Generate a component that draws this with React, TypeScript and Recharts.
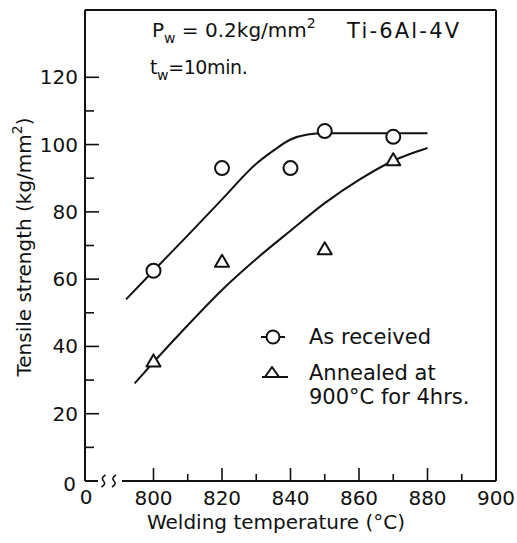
import React from 'react';
import { ComposedChart, Line, Scatter, XAxis, YAxis, ReferenceLine, Legend } from 'recharts';

const FONT = '"DejaVu Sans", sans-serif';

// axis ticks
const X_TICKS = [780, 800, 810, 820, 830, 840, 850, 860, 870, 880, 890, 900];
const X_TICK_LABELS: Record<number, string> = { 780: '0', 800: '800', 820: '820', 840: '840', 860: '860', 880: '880', 900: '900' };
const Y_TICKS = [0, 10, 20, 30, 40, 50, 60, 70, 80, 90, 100, 110, 120];
const Y_TICK_LABELS: Record<number, string> = { 0: '0', 20: '20', 40: '40', 60: '60', 80: '80', 100: '100', 120: '120' };

// measured points
const AS_RECEIVED_T = [800, 820, 840, 850, 870];
const AS_RECEIVED_V = [62.5, 93, 93, 104, 102.3];
const ANNEALED_T = [800, 820, 850, 870];
const ANNEALED_V = [35.7, 65.3, 69, 95.5];

// fitted curves
const AS_FIT_T = [792, 800, 810, 820, 830, 835, 840, 845, 850, 860, 870, 880];
const AS_FIT_V = [54, 62.5, 73, 83.7, 94.3, 98.2, 101.5, 103, 103.4, 103.4, 103.4, 103.4];
const AN_FIT_T = [794.5, 800, 810, 820, 830, 840, 850, 860, 870, 880];
const AN_FIT_V = [29, 35.3, 46.3, 56.8, 66, 74.4, 82.6, 89.5, 95.2, 99];

const LEGEND_LABELS = ['As received', 'Annealed at', '900°C for 4hrs.'];
const X_LABEL = 'Welding temperature (°C)';
const Y_LABEL = 'Tensile strength (kg/mm';
const MATERIAL = 'Ti-6Al-4V';

const zip = (t: number[], v: number[]) => t.map((x, i) => ({ t: x, v: v[i] }));
const asPts = zip(AS_RECEIVED_T, AS_RECEIVED_V);
const anPts = zip(ANNEALED_T, ANNEALED_V);
const asFit = zip(AS_FIT_T, AS_FIT_V);
const anFit = zip(AN_FIT_T, AN_FIT_V);

const textStyle = { fontFamily: FONT, fill: '#111' } as const;

const XTick = (props: any) => {
  const { x, y, payload } = props;
  const v = payload.value as number;
  const label = X_TICK_LABELS[v];
  if (v === 780) {
    const sq = (cx: number) =>
      `M${cx + 2},${y - 6} Q${cx - 3},${y - 3} ${cx},${y} Q${cx + 3},${y + 3} ${cx - 2},${y + 6}`;
    return (
      <g>
        <rect x={x + 13} y={y - 7} width={24} height={14} fill="#fff" />
        <path d={sq(x + 18.5)} fill="none" stroke="#111" strokeWidth={1.6} />
        <path d={sq(x + 29)} fill="none" stroke="#111" strokeWidth={1.6} />
        <text x={x + 1} y={y + 16} textAnchor="middle" dominantBaseline="central" fontSize={20} style={textStyle}>
          {label}
        </text>
      </g>
    );
  }
  const major = v % 20 === 0 && v < 900;
  const minor = v % 20 === 10;
  return (
    <g>
      {(major || minor) && (
        <line x1={x} x2={x} y1={y} y2={y - (major ? 13 : 7)} stroke="#111" strokeWidth={1.6} />
      )}
      {label && (
        <text x={x} y={y + 17} textAnchor="middle" dominantBaseline="central" fontSize={20} style={textStyle}>
          {label}
        </text>
      )}
    </g>
  );
};

const YTick = (props: any) => {
  const { x, y, payload } = props;
  const v = payload.value as number;
  const label = Y_TICK_LABELS[v];
  const major = v % 20 === 0;
  return (
    <g>
      {v !== 0 && <line x1={x} x2={x + (major ? 14 : 9)} y1={y} y2={y} stroke="#111" strokeWidth={1.6} />}
      {label && (
        <text
          x={v === 0 ? x - 9 : x - 7}
          y={v === 0 ? y + 3 : y}
          textAnchor="end"
          dominantBaseline="central"
          fontSize={20}
          style={textStyle}
        >
          {label}
        </text>
      )}
    </g>
  );
};

const CircleMark = (props: any) => {
  const { cx, cy } = props;
  return <circle cx={cx} cy={cy} r={7} fill="#fff" stroke="#111" strokeWidth={2} />;
};

const TriangleMark = (props: any) => {
  const { cx, cy } = props;
  return (
    <polygon
      points={`${cx},${cy - 6.5} ${cx - 7},${cy + 5.5} ${cx + 7},${cy + 5.5}`}
      fill="#fff"
      stroke="#111"
      strokeWidth={2}
      strokeLinejoin="round"
    />
  );
};

const renderLegend = () => (
  <svg width={240} height={95} style={{ overflow: 'visible' }}>
    <line x1={11} x2={35} y1={17} y2={17} stroke="#111" strokeWidth={2} />
    <circle cx={23} cy={17} r={6.5} fill="#fff" stroke="#111" strokeWidth={2} />
    <text x={59} y={17} dominantBaseline="central" fontSize={21} style={textStyle}>{LEGEND_LABELS[0]}</text>
    <line x1={12} x2={38} y1={57} y2={57} stroke="#111" strokeWidth={2} />
    <polygon points="22,47 15,57 29,57" fill="#fff" stroke="#111" strokeWidth={2} strokeLinejoin="round" />
    <text x={59} y={53} dominantBaseline="central" fontSize={21} style={textStyle}>{LEGEND_LABELS[1]}</text>
    <text x={59} y={77} dominantBaseline="central" fontSize={21} style={textStyle}>{LEGEND_LABELS[2]}</text>
  </svg>
);

export default function App() {
  return (
    <div style={{ position: 'absolute', left: 0, top: 0, width: 517, height: 543, background: '#fff' }}>
      <ComposedChart width={517} height={543} margin={{ top: 10, right: 21, bottom: 61, left: 84 }}>
        <XAxis
          dataKey="t"
          type="number"
          domain={[780, 900]}
          ticks={X_TICKS}
          interval={0}
          height={1}
          tickSize={0}
          tickMargin={0}
          tick={<XTick />}
          axisLine={{ stroke: '#111', strokeWidth: 2 }}
          allowDataOverflow
        />
        <YAxis
          dataKey="v"
          type="number"
          domain={[0, 140]}
          ticks={Y_TICKS}
          interval={0}
          width={1}
          tickSize={0}
          tickMargin={0}
          tick={<YTick />}
          axisLine={{ stroke: '#111', strokeWidth: 2 }}
          allowDataOverflow
        />
        <ReferenceLine y={140} stroke="#111" strokeWidth={2} />
        <ReferenceLine x={900} stroke="#111" strokeWidth={2} />
        <Line data={asFit} dataKey="v" type="monotone" dot={false} stroke="#111" strokeWidth={2} isAnimationActive={false} legendType="none" />
        <Line data={anFit} dataKey="v" type="monotone" dot={false} stroke="#111" strokeWidth={2} isAnimationActive={false} legendType="none" />
        <Scatter data={asPts} dataKey="v" shape={<CircleMark />} isAnimationActive={false} />
        <Scatter data={anPts} dataKey="v" shape={<TriangleMark />} isAnimationActive={false} />
        <Legend
          layout="vertical"
          align="center"
          verticalAlign="middle"
          content={renderLegend}
          wrapperStyle={{ left: 250, top: 320, width: 240, height: 95 }}
        />
      </ComposedChart>
      <svg width={517} height={543} style={{ position: 'absolute', left: 0, top: 0, pointerEvents: 'none' }}>
        <text x={152} y={37} fontSize={20} style={textStyle}>
          P<tspan dy={6} fontSize={14}>w</tspan>
          <tspan dy={-6} fontSize={20}> = 0.2kg/mm</tspan>
          <tspan dy={-9} fontSize={14}>2</tspan>
        </text>
        <text x={150} y={74} fontSize={19} letterSpacing={-0.4} style={textStyle}>
          t<tspan dy={6} fontSize={14}>w</tspan>
          <tspan dy={-6} fontSize={19}>=10min.</tspan>
        </text>
        <text x={347} y={38} fontSize={21} letterSpacing={2.2} style={textStyle}>{MATERIAL}</text>
        <text x={276} y={529} textAnchor="middle" fontSize={20} style={textStyle}>{X_LABEL}</text>
        <text transform="translate(31,247) rotate(-90)" textAnchor="middle" fontSize={20} style={textStyle}>
          {Y_LABEL}
          <tspan dy={-9} fontSize={14}>2</tspan>
          <tspan dy={9}>)</tspan>
        </text>
      </svg>
    </div>
  );
}
